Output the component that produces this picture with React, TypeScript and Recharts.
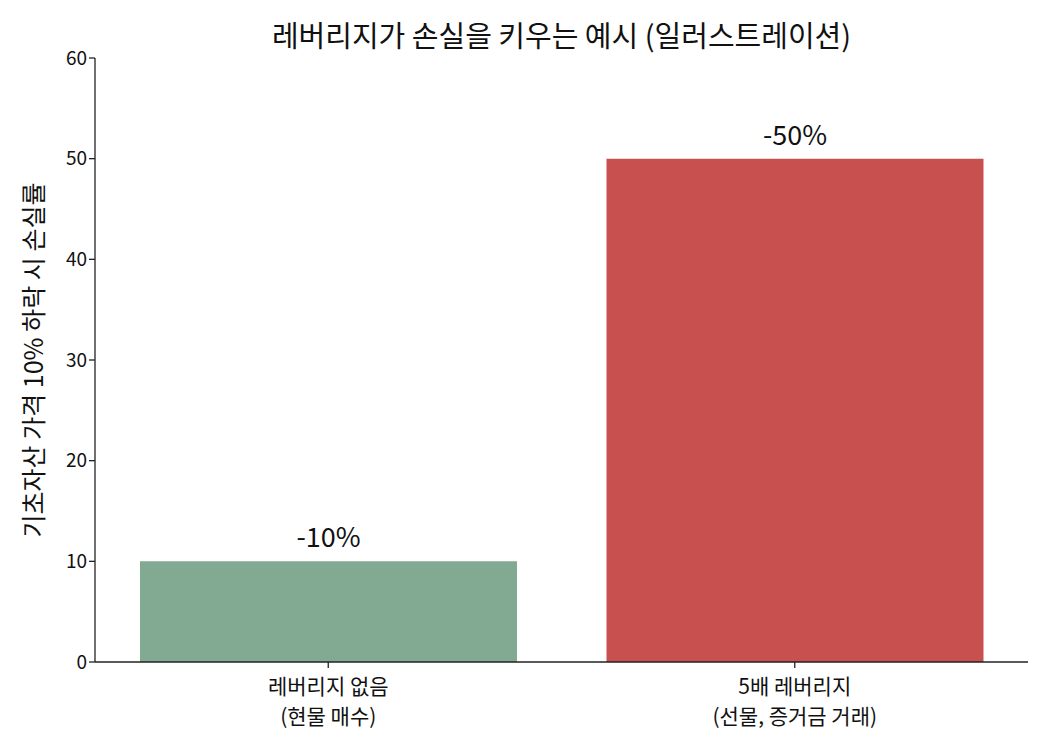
import { BarChart, Bar, XAxis, YAxis, LabelList, Cell } from 'recharts'

const categories = ['레버리지 없음\n(현물 매수)', '5배 레버리지\n(선물, 증거금 거래)']
const lossRates = [10, 50]
const barColors = ['#82a991', '#c8504e']
const yTicks = [0, 10, 20, 30, 40, 50, 60]

const data = categories.map((name, i) => ({ name, loss: lossRates[i] }))

const FONT = '"Noto Sans CJK KR", "Noto Sans", sans-serif'

function CategoryTick(props: any) {
  const { x, y, payload } = props
  const lines = String(payload.value).split('\n')
  return (
    <g>
      {lines.map((line: string, i: number) => (
        <text
          key={i}
          x={x}
          y={y + 24 + i * 30}
          textAnchor="middle"
          fontSize={21}
          fill="#111"
          fontFamily={FONT}
        >
          {line}
        </text>
      ))}
    </g>
  )
}

export default function App() {
  return (
    <div style={{ position: 'absolute', left: 0, top: 0, width: 1050, height: 750, background: '#fff' }}>
      <div
        style={{
          position: 'absolute',
          top: 14,
          left: 95,
          width: 933,
          textAlign: 'center',
          fontFamily: FONT,
          fontSize: 29,
          lineHeight: '40px',
          color: '#111'
        }}
      >
        레버리지가 손실을 키우는 예시 (일러스트레이션)
      </div>
      <BarChart
        width={1050}
        height={750}
        data={data}
        margin={{ top: 58, right: 22, bottom: 28, left: 20 }}
      >
        <XAxis
          dataKey="name"
          height={60}
          tick={<CategoryTick />}
          tickLine={{ stroke: '#222', strokeWidth: 1.3 }}
          axisLine={{ stroke: '#222', strokeWidth: 1.3 }}
          tickSize={6}
          interval={0}
        />
        <YAxis
          width={75}
          domain={[0, 60]}
          ticks={yTicks}
          tick={{ fontSize: 19, fill: '#111', fontFamily: FONT }}
          tickLine={{ stroke: '#222', strokeWidth: 1.3 }}
          axisLine={{ stroke: '#222', strokeWidth: 1.3 }}
          tickSize={6}
          label={{
            value: '기초자산 가격 10% 하락 시 손실률',
            angle: -90,
            position: 'insideLeft',
            offset: 0,
            dx: 14,
            style: { textAnchor: 'middle', fontSize: 25, fill: '#111', fontFamily: FONT }
          }}
        />
        <Bar dataKey="loss" barSize={377} isAnimationActive={false}>
          {data.map((d, i) => (
            <Cell key={d.name} fill={barColors[i]} />
          ))}
          <LabelList
            dataKey="loss"
            position="top"
            offset={14}
            formatter={(v: any) => `-${v}%`}
            style={{ fontSize: 27, fill: '#111', fontFamily: FONT }}
          />
        </Bar>
      </BarChart>
    </div>
  )
}
